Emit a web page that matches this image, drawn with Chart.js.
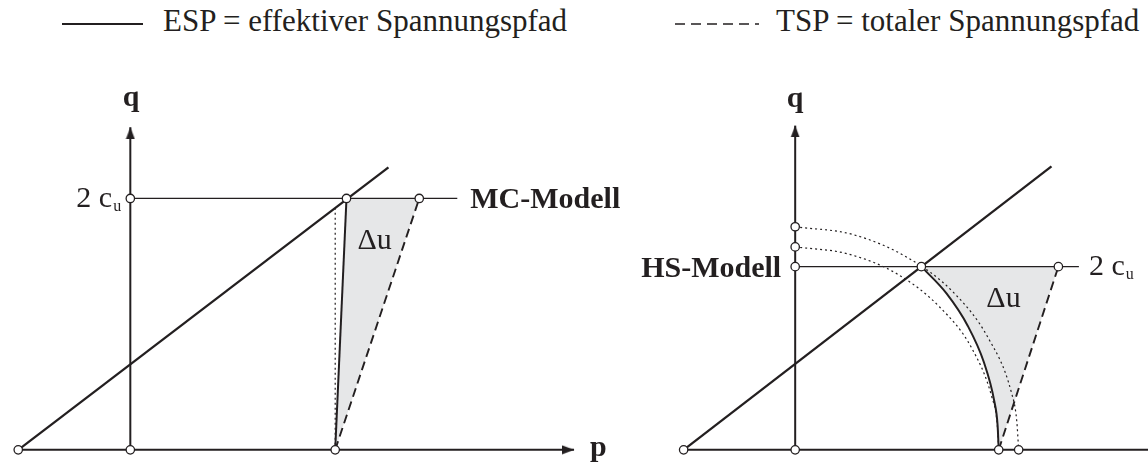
<!DOCTYPE html>
<html lang="de">
<head>
<meta charset="utf-8">
<script src="https://cdn.jsdelivr.net/npm/chart.js@4.4.1/dist/chart.umd.min.js"></script>
<style>
  html, body { margin: 0; padding: 0; background: #fff; }
  #page { position: relative; width: 1148px; height: 468px; overflow: hidden;
          font-family: "Liberation Serif", "Times New Roman", serif; color: #231f20; }
  #page canvas { position: absolute; }
  .lbl { position: absolute; white-space: nowrap; line-height: 1; }
  .b { font-weight: bold; }
  .lbl sub { font-size: 16px; vertical-align: baseline; position: relative; top: 4px; margin-left: 1px; }
  #legend { position: absolute; left: 0; top: 0; }
</style>
</head>
<body>
<div id="page">
  <svg id="legend" width="1148" height="50">
    <line x1="62" y1="24" x2="143" y2="24" stroke="#231f20" stroke-width="2"/>
    <line x1="675" y1="24" x2="759" y2="24" stroke="#231f20" stroke-width="1.6" stroke-dasharray="10 6"/>
  </svg>
  <canvas id="mcChart" width="640" height="428" style="left:0;top:40px"></canvas>
  <canvas id="hsChart" width="508" height="428" style="left:640px;top:40px"></canvas>
</div>
<script>
// linkes Diagramm: MC-Modell (p, q in Einheiten von c_u)
const mcAxisP = [-0.884, 3.50];
const mcAxisQ = [0, 2.566];
const mcCuLevel = 2.0;
const mcCuLineEnd = 2.579;
const mcFailureLine = [[-0.884, 0], [2.036, 2.248]];
const mcEsp = [[1.705, 2.0], [1.616, 0]];
const mcTsp = [[1.616, 0], [2.279, 2.0]];
const mcStart = [[1.616, 0], [1.616, 1.925]];
const mcMarks = [[-0.884, 0], [0, 0], [1.616, 0], [0, 2.0], [1.705, 2.0], [2.279, 2.0]];

// rechtes Diagramm: HS-Modell
const hsAxisP = [-1.213, 3.9];
const hsAxisQ = [0, 3.54];
const hsCuLevel = 2.0;
const hsCuLineEnd = 3.085;
const hsFailureLine = [[-1.213, 0], [2.787, 3.096]];
const hsEsp = [[1.372, 2.0], [1.645, 1.708], [1.877, 1.353], [2.052, 0.956], [2.165, 0.531], [2.201, 0.267], [2.213, 0]];
const hsTsp = [[2.213, 0], [2.862, 2.0]];
const hsCapInner = [[0, 2.216], [0.57, 2.14], [1.11, 1.92], [1.57, 1.56], [1.92, 1.11], [2.14, 0.57], [2.196, 0.289], [2.213, 0]];
const hsCapOuter = [[0, 2.436], [0.63, 2.35], [1.22, 2.10], [1.72, 1.72], [2.10, 1.22], [2.35, 0.63], [2.409, 0.317], [2.43, 0]];
const hsMarks = [[-1.213, 0], [0, 0], [2.213, 0], [2.43, 0], [0, 2.0], [0, 2.216], [0, 2.436], [1.372, 2.0], [2.862, 2.0]];

const legendItems = ['ESP = effektiver Spannungspfad', 'TSP = totaler Spannungspfad'];

const INK = '#231f20';
const SHADE = '#e6e7e8';
const page = document.getElementById('page');

function xy(list) {
  return list.map(([p, q]) => ({ x: p, y: q }));
}

function stroke(list, width, dash, order) {
  return {
    data: xy(list), showLine: true, borderColor: INK, borderWidth: width,
    borderDash: dash || [], pointRadius: 0, fill: false, tension: 0,
    order: order || 5, clip: false
  };
}

function curve(list, width, dash) {
  const ds = stroke(list, width, dash, 6);
  ds.cubicInterpolationMode = 'monotone';
  return ds;
}

function marks(list) {
  return {
    data: xy(list), showLine: false, pointRadius: 4.2, pointBackgroundColor: '#fff',
    pointBorderColor: INK, pointBorderWidth: 1.3, order: 0, clip: false
  };
}

function shade(list) {
  return {
    data: xy(list), showLine: true, fill: 'shape', backgroundColor: SHADE,
    borderColor: 'rgba(0,0,0,0)', borderWidth: 1, pointRadius: 0, tension: 0,
    order: 20, clip: false
  };
}

// schmale Pfeilspitze, Spitze zeigt nach oben
const ARROW_H = 12;
function arrowHead() {
  const c = document.createElement('canvas');
  c.width = 10; c.height = ARROW_H;
  const g = c.getContext('2d');
  g.fillStyle = INK;
  g.beginPath();
  g.moveTo(5, 0);
  g.lineTo(9.5, ARROW_H);
  g.lineTo(0.5, ARROW_H);
  g.closePath();
  g.fill();
  return c;
}

function arrow(p, q, rotation) {
  return {
    data: [{ x: p, y: q }], showLine: false, pointStyle: arrowHead(),
    pointRotation: rotation, order: 1, clip: false
  };
}

// Diagramm mit ausgeblendeten Skalen, Ursprung und Massstab in Pixel
function panel(id, originX, originY, unit, datasets) {
  const cv = document.getElementById(id);
  const W = cv.width, H = cv.height;
  return new Chart(cv, {
    type: 'scatter',
    data: { datasets },
    options: {
      responsive: false,
      animation: false,
      events: [],
      layout: { padding: 0 },
      plugins: { legend: { display: false }, tooltip: { enabled: false } },
      scales: {
        x: { type: 'linear', display: false, min: -originX / unit, max: (W - originX) / unit },
        y: { type: 'linear', display: false, min: -(H - originY) / unit, max: originY / unit }
      }
    }
  });
}

const MC_UNIT = 129, HS_UNIT = 94;
const tipOffset = unit => (ARROW_H / 2) / unit;

const mcShade = [mcEsp[0], mcTsp[1], mcTsp[0]];
const mcChart = panel('mcChart', 127, 415, MC_UNIT, [
  shade(mcShade),
  stroke([[mcAxisP[0], 0], [mcAxisP[1], 0]], 2),
  stroke([[0, mcAxisQ[0]], [0, mcAxisQ[1]]], 2),
  stroke([[0, mcCuLevel], [mcCuLineEnd, mcCuLevel]], 1.3),
  stroke(mcFailureLine, 2.3),
  stroke(mcEsp, 2),
  stroke(mcTsp, 1.9, [9, 5]),
  stroke(mcStart, 1.2, [2, 3]),
  arrow(0, mcAxisQ[1] - tipOffset(MC_UNIT), 0),
  arrow(mcAxisP[1] - tipOffset(MC_UNIT), 0, 90),
  marks(mcMarks)
]);

const hsShade = [[hsEsp[0][0], hsCuLevel], hsTsp[1], hsTsp[0]].concat(hsEsp.slice(0, -1).reverse());
const hsChart = panel('hsChart', 153, 415, HS_UNIT, [
  shade(hsShade),
  stroke([[hsAxisP[0], 0], [hsAxisP[1], 0]], 2),
  stroke([[0, hsAxisQ[0]], [0, hsAxisQ[1]]], 2),
  stroke([[0, hsCuLevel], [hsCuLineEnd, hsCuLevel]], 1.3),
  stroke(hsFailureLine, 2.3),
  curve(hsEsp, 2),
  curve(hsCapInner, 1.2, [2, 3]),
  curve(hsCapOuter, 1.2, [2, 3]),
  stroke(hsTsp, 1.9, [9, 5]),
  arrow(0, hsAxisQ[1] - tipOffset(HS_UNIT), 0),
  marks(hsMarks)
]);

// Beschriftungen als Text, an Datenpunkten verankert (dy = Grundlinie)
function label(chart, left, top, l) {
  const el = document.createElement('div');
  el.className = 'lbl' + (l.bold ? ' b' : '');
  el.innerHTML = l.html;
  el.style.fontSize = l.size + 'px';
  const px = left + chart.scales.x.getPixelForValue(l.at[0]) + l.dx;
  const py = top + chart.scales.y.getPixelForValue(l.at[1]) + l.dy;
  el.style.top = (py - 0.8375 * l.size) + 'px';
  page.appendChild(el);
  const w = el.offsetWidth;
  el.style.left = (l.align === 'right' ? px - w : l.align === 'center' ? px - w / 2 : px) + 'px';
}

const CU = '2 c<sub>u</sub>';
[
  { html: 'q', at: [0, mcAxisQ[1]], dx: 1, dy: -21, align: 'center', bold: true, size: 30 },
  { html: CU, at: [0, mcCuLevel], dx: -9, dy: 9, align: 'right', size: 30 },
  { html: '&Delta;u', at: mcEsp[0], dx: 11, dy: 51, align: 'left', size: 30 },
  { html: 'MC-Modell', at: [mcCuLineEnd, mcCuLevel], dx: 13, dy: 10, align: 'left', bold: true, size: 30 },
  { html: 'p', at: [mcAxisP[1], 0], dx: 16, dy: 6, align: 'left', bold: true, size: 30 }
].forEach(l => label(mcChart, 0, 40, l));

[
  { html: 'q', at: [0, hsAxisQ[1]], dx: 0, dy: -19, align: 'center', bold: true, size: 30 },
  { html: 'HS-Modell', at: [0, hsCuLevel], dx: -14, dy: 10, align: 'right', bold: true, size: 30 },
  { html: CU, at: [hsCuLineEnd, hsCuLevel], dx: 10, dy: 8, align: 'left', size: 30 },
  { html: '&Delta;u', at: hsEsp[0], dx: 65, dy: 40, align: 'left', size: 30 }
].forEach(l => label(hsChart, 640, 40, l));

// Legende
[[163, legendItems[0]], [776, legendItems[1]]].forEach(([x, text]) => {
  const el = document.createElement('div');
  el.className = 'lbl';
  el.textContent = text;
  el.style.fontSize = '31px';
  el.style.left = x + 'px';
  el.style.top = (31 - 0.8375 * 31) + 'px';
  page.appendChild(el);
});
</script>
</body>
</html>
